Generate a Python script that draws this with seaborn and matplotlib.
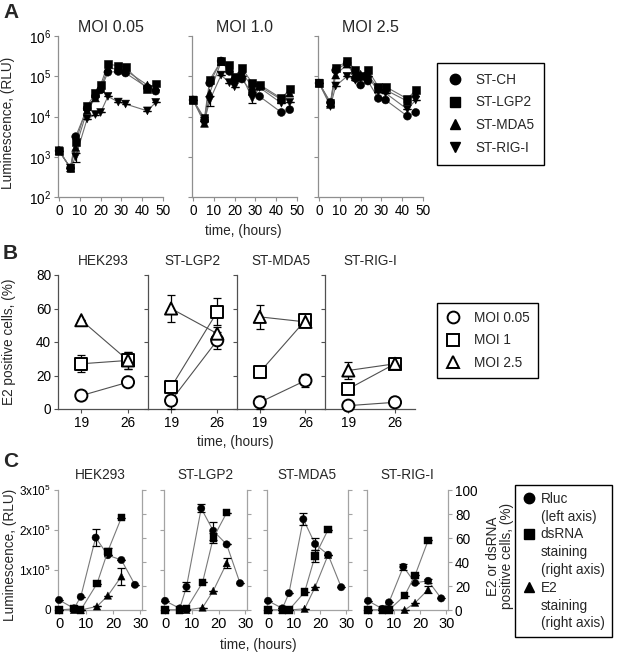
import numpy as np
import pandas as pd
import matplotlib
matplotlib.use("Agg")
import matplotlib.pyplot as plt
from matplotlib.lines import Line2D
import seaborn as sns

# ---------------- panel A: luciferase over time, log scale ----------------
A_MOI = ["MOI 0.05", "MOI 1.0", "MOI 2.5"]
A_SERIES = ["ST-CH", "ST-LGP2", "ST-MDA5", "ST-RIG-I"]
A_MARKERS = {"ST-CH": "o", "ST-LGP2": "s", "ST-MDA5": "^", "ST-RIG-I": "v"}
a_time = [0, 5.5, 8, 13.5, 17.5, 20, 23.5, 28.5, 32, 42.5, 46.5]

a_moi005 = {
    "ST-CH":    [1410, 525, 3160, 15800, 31600, 45700, 126000, 132000, 120000, 52500, 42700],
    "ST-LGP2":  [1410, 525, 2340, 18200, 38000, 60300, 200000, 182000, 166000, 47900, 66100],
    "ST-MDA5":  [1410, 525, 1700, 14100, 28800, 50100, 158000, 151000, 141000, 60300, 55000],
    "ST-RIG-I": [1410, 525, 1000, 8710, 11200, 12600, 31600, 22900, 20400, 13800, 22400],
}
a_moi1 = {
    "ST-CH":    [25700, 7940, 67600, 240000, 132000, 81300, 85100, 38000, 31600, 12600, 14800],
    "ST-LGP2":  [25700, 9120, 81300, 240000, 191000, 97700, 158000, 67600, 61700, 28200, 47900],
    "ST-MDA5":  [25700, 6760, 38000, 229000, 158000, 89100, 120000, 56200, 56200, 26300, 38000],
    "ST-RIG-I": [25700, 7590, 25100, 107000, 69200, 55000, 100000, 28200, 52500, 21400, 22400],
}
a_moi25 = {
    "ST-CH":    [67600, 22400, 141000, 214000, 89100, 60300, 75900, 28200, 25700, 10200, 12600],
    "ST-LGP2":  [67600, 21400, 158000, 234000, 145000, 100000, 145000, 55000, 55000, 27500, 45700],
    "ST-MDA5":  [67600, 20000, 107000, 200000, 112000, 112000, 112000, 47900, 45700, 24000, 38000],
    "ST-RIG-I": [67600, 17800, 57500, 100000, 79400, 89100, 100000, 41700, 38000, 15100, 25700],
}
# error bars visible on the ST-RIG-I curves only
a_rig_err = [
    [0, 0, 250, 0, 0, 0, 0, 0, 0, 0, 0],
    [0, 0, 7000, 0, 0, 0, 0, 6000, 0, 0, 0],
    [0, 0, 0, 0, 0, 0, 0, 0, 0, 0, 0],
]
a_yticks = [1e2, 1e3, 1e4, 1e5, 1e6]
a_yticklabels = ["10$^2$", "10$^3$", "10$^4$", "10$^5$", "10$^6$"]
a_xticks = [0, 10, 20, 30, 40, 50]

# ---------------- panel B: E2 positive cells ----------------
B_GROUPS = ["HEK293", "ST-LGP2", "ST-MDA5", "ST-RIG-I"]
B_MOI = ["MOI 0.05", "MOI 1", "MOI 2.5"]
B_MARKERS = {"MOI 0.05": "o", "MOI 1": "s", "MOI 2.5": "^"}
b_time = [19, 26]
b_moi005 = [[8, 16], [5, 41], [4, 17], [2, 4]]
b_moi005_err = [[0, 0], [5, 5], [4, 4], [0, 0]]
b_moi1 = [[27, 29], [13, 58], [22, 53], [12, 27]]
b_moi1_err = [[5, 5], [3, 8], [0, 3], [3, 1]]
b_moi25 = [[53, 29], [60, 45], [55, 52], [23, 27]]
b_moi25_err = [[0, 5], [8, 4], [7, 3], [5, 1]]
b_yticks = [0, 20, 40, 60, 80]

# ---------------- panel C: luciferase vs staining ----------------
C_GROUPS = ["HEK293", "ST-LGP2", "ST-MDA5", "ST-RIG-I"]
c_time_rluc = [0, 5.5, 8, 13.5, 18, 23, 28]
c_time_stain = [0, 5.5, 8, 14, 18, 23]
c_rluc = [
    [25000, 4000, 33000, 181000, 137000, 125000, 63000],
    [23000, 4000, 58000, 254000, 198000, 164000, 67000],
    [23000, 4000, 42000, 227000, 165000, 138000, 57000],
    [23000, 3000, 19000, 108000, 68000, 73000, 29000],
]
c_rluc_err = [
    [0, 0, 0, 22000, 0, 0, 0],
    [0, 0, 11000, 10000, 22000, 0, 0],
    [0, 0, 0, 15000, 15000, 0, 0],
    [0, 0, 0, 8000, 0, 5000, 0],
]
c_dsrna = [
    [0, 1, 0, 22, 49, 77],
    [0, 0, 1, 23, 60, 81],
    [0, 0, 0, 15, 45, 67],
    [0, 0, 0, 12, 29, 58],
]
c_dsrna_err = [
    [0, 0, 0, 0, 3, 0],
    [0, 0, 0, 0, 4, 0],
    [0, 0, 0, 0, 5, 0],
    [0, 0, 0, 0, 0, 0],
]
c_e2 = [
    [0, 0, 0, 3, 12, 28],
    [0, 0, 0, 2, 16, 39],
    [0, 0, 0, 1, 19, 46],
    [0, 0, 0, 0, 6, 17],
]
c_e2_err = [
    [0, 0, 0, 0, 0, 7],
    [0, 0, 0, 0, 0, 4],
    [0, 0, 0, 0, 0, 0],
    [0, 0, 0, 0, 0, 3],
]
c_left_ticks = [0, 1e5, 2e5, 3e5]
c_left_labels = ["0", "1x10$^5$", "2x10$^5$", "3x10$^5$"]
c_right_ticks = [0, 20, 40, 60, 80, 100]
c_xticks = [0, 10, 20, 30]

W, H = 617, 655
FS = 9.8

sns.set_theme(style="ticks")
plt.rcParams["font.family"] = ["Liberation Sans", "DejaVu Sans"]
plt.rcParams["mathtext.default"] = "regular"


def px_box(l, t, r, b):
    return [l / W, 1 - b / H, (r - l) / W, (b - t) / H]


def style_axis(ax, spine_color, labelsize=FS):
    for side in ["top", "right"]:
        ax.spines[side].set_visible(False)
    for side in ["left", "bottom"]:
        ax.spines[side].set_color(spine_color)
        ax.spines[side].set_linewidth(0.9)
    ax.tick_params(length=3, width=0.8, color=spine_color, labelsize=labelsize,
                   pad=2, labelcolor="black")
    ax.set_xlabel("")
    ax.set_ylabel("")


def line_and_points(ax, df, unit, markers, order, line_color, s, face, edge_lw):
    sns.lineplot(data=df, x="t", y="v", units=unit, estimator=None, color=line_color,
                 lw=0.8, ax=ax, legend=False, zorder=1)
    sns.scatterplot(data=df, x="t", y="v", style=unit, markers=markers, style_order=order,
                    color=face, edgecolor="black", linewidth=edge_lw, s=s, ax=ax,
                    legend=False, zorder=4, clip_on=False)


def errbars(ax, t, v, err):
    ax.errorbar(t, v, yerr=err, fmt="none", ecolor="black", elinewidth=0.9,
                capsize=3, capthick=0.9, zorder=3, clip_on=False)


fig = plt.figure(figsize=(W / 100, H / 100), dpi=100)

# ---------------- A ----------------
a_sets = [a_moi005, a_moi1, a_moi25]
a_boxes = [(58, 36, 163, 197), (192, 36, 297, 197), (318, 36, 423, 197)]
A_SPINE = "#8f8f8f"
for i, (title, data) in enumerate(zip(A_MOI, a_sets)):
    ax = fig.add_axes(px_box(*a_boxes[i]))
    rows = []
    for name in A_SERIES:
        for t, v in zip(a_time, data[name]):
            rows.append({"t": t, "v": v, "series": name})
    df = pd.DataFrame(rows)
    ax.set_yscale("log")
    line_and_points(ax, df, "series", A_MARKERS, A_SERIES, "#6e6e6e", 32, "black", 0.4)
    errbars(ax, a_time, data["ST-RIG-I"], a_rig_err[i])
    ax.set_ylim(1e2, 1e6)
    ax.set_xlim(-0.5, 50)
    ax.set_xticks(a_xticks)
    ax.set_yticks(a_yticks)
    ax.minorticks_off()
    if i == 0:
        ax.set_yticklabels(a_yticklabels)
    else:
        ax.set_yticklabels([])
    style_axis(ax, A_SPINE)
    ax.set_title(title, fontsize=11.5, pad=3)
    if i == 0:
        ax.set_ylabel("Luminescence, (RLU)", fontsize=FS)
        ax.yaxis.set_label_coords(-0.41, 0.46)

a_handles = [Line2D([], [], marker=A_MARKERS[n], color="black", linestyle="none",
                    markersize=7.5) for n in A_SERIES]
leg = fig.legend(a_handles, A_SERIES, loc="upper left",
                 bbox_to_anchor=(437 / W, 1 - 63 / H), fontsize=FS, frameon=True,
                 fancybox=False, edgecolor="black", framealpha=1, borderpad=0.7,
                 labelspacing=0.65, handletextpad=0.9, handlelength=1.2,
                 borderaxespad=0)
leg.get_frame().set_linewidth(1.0)
fig.text(243 / W, 1 - 231 / H, "time, (hours)", ha="center", va="center", fontsize=FS)

# ---------------- B ----------------
b_sets = [b_moi005, b_moi1, b_moi25]
b_errs = [b_moi005_err, b_moi1_err, b_moi25_err]
b_edges = [58, 148, 237, 325, 415]
B_SPINE = "#505050"
for g, group in enumerate(B_GROUPS):
    ax = fig.add_axes(px_box(b_edges[g], 275, b_edges[g + 1], 409))
    rows = []
    for m, moi in enumerate(B_MOI):
        for t, v in zip(b_time, b_sets[m][g]):
            rows.append({"t": t, "v": v, "moi": moi})
    df = pd.DataFrame(rows)
    for m in range(3):
        errbars(ax, b_time, b_sets[m][g], b_errs[m][g])
    line_and_points(ax, df, "moi", B_MARKERS, B_MOI, "#505050", 76, "white", 1.4)
    ax.set_xlim(15.5, 29)
    ax.set_ylim(0, 80)
    ax.set_xticks(b_time)
    ax.set_yticks(b_yticks)
    if g > 0:
        ax.set_yticklabels([])
    style_axis(ax, B_SPINE)
    ax.set_title(group, fontsize=FS, pad=7)
    if g == 0:
        ax.set_ylabel("E2 positive cells, (%)", fontsize=FS)
        ax.yaxis.set_label_coords(-0.47, 0.5)

b_handles = [Line2D([], [], marker=B_MARKERS[n], markerfacecolor="white",
                    markeredgecolor="black", markeredgewidth=1.4, linestyle="none",
                    markersize=8.5) for n in B_MOI]
leg = fig.legend(b_handles, B_MOI, loc="upper left",
                 bbox_to_anchor=(437 / W, 1 - 303 / H), fontsize=FS, frameon=True,
                 fancybox=False, edgecolor="black", framealpha=1, borderpad=0.6,
                 labelspacing=0.6, handletextpad=0.9, handlelength=1.2,
                 borderaxespad=0)
leg.get_frame().set_linewidth(1.0)
fig.text(235 / W, 1 - 442 / H, "time, (hours)", ha="center", va="center", fontsize=FS)

# ---------------- C ----------------
c_boxes = [(58, 490, 142, 610), (164, 490, 247, 610), (267, 490, 348, 610),
           (367, 490, 448, 610)]
C_SPINE = "#a3a3a3"
C_MARKERS = {"dsRNA": "s", "E2": "^"}
for g, group in enumerate(C_GROUPS):
    ax = fig.add_axes(px_box(*c_boxes[g]))
    ax2 = ax.twinx()
    df_l = pd.DataFrame({"t": c_time_rluc, "v": c_rluc[g], "kind": "Rluc"})
    errbars(ax, c_time_rluc, c_rluc[g], c_rluc_err[g])
    line_and_points(ax, df_l, "kind", {"Rluc": "o"}, ["Rluc"], "#7a7a7a", 28, "black", 0.3)
    df_r = pd.concat([
        pd.DataFrame({"t": c_time_stain, "v": c_dsrna[g], "kind": "dsRNA"}),
        pd.DataFrame({"t": c_time_stain, "v": c_e2[g], "kind": "E2"}),
    ], ignore_index=True)
    errbars(ax2, c_time_stain, c_dsrna[g], c_dsrna_err[g])
    errbars(ax2, c_time_stain, c_e2[g], c_e2_err[g])
    line_and_points(ax2, df_r, "kind", C_MARKERS, ["dsRNA", "E2"], "#7a7a7a", 28,
                    "black", 0.3)
    ax.set_ylim(0, 3e5)
    ax2.set_ylim(0, 100)
    ax.set_xlim(-0.4, 30.6)
    ax.set_xticks(c_xticks)
    ax.set_yticks(c_left_ticks)
    ax2.set_yticks(c_right_ticks)
    style_axis(ax, C_SPINE, labelsize=FS)
    ax.tick_params(axis="x", labelsize=10.5)
    ax2.set_ylabel("")
    ax2.spines["top"].set_visible(False)
    ax2.spines["left"].set_visible(False)
    ax2.spines["bottom"].set_visible(False)
    ax2.spines["right"].set_color(C_SPINE)
    ax2.spines["right"].set_linewidth(0.9)
    ax2.tick_params(length=3, width=0.8, color=C_SPINE, labelsize=FS, pad=2,
                    labelcolor="black")
    if g == 0:
        ax.set_yticklabels(c_left_labels)
        ax.tick_params(axis="y", labelsize=8.5)
        ax.set_ylabel("Luminescence, (RLU)", fontsize=FS)
        ax.yaxis.set_label_coords(-0.49, 0.46)
    else:
        ax.set_yticklabels([])
    if g == 3:
        ax2.set_ylabel("E2 or dsRNA\npositive cells, (%)", fontsize=FS, linespacing=1.0)
        ax2.yaxis.set_label_coords(1.47, 0.45)
    else:
        ax2.set_yticklabels([])
    ax.set_title(group, fontsize=FS, pad=8)

blank = Line2D([], [], linestyle="none", marker=None)
c_handles = [
    Line2D([], [], marker="o", color="black", linestyle="none", markersize=7.5), blank,
    Line2D([], [], marker="s", color="black", linestyle="none", markersize=7.5), blank, blank,
    Line2D([], [], marker="^", color="black", linestyle="none", markersize=7.5), blank, blank,
]
c_labels = ["Rluc", "(left axis)", "dsRNA", "staining", "(right axis)", "E2",
            "staining", "(right axis)"]
leg = fig.legend(c_handles, c_labels, loc="upper left",
                 bbox_to_anchor=(515 / W, 1 - 485 / H), fontsize=FS, frameon=True,
                 fancybox=False, edgecolor="black", framealpha=1, borderpad=0.5,
                 labelspacing=0.28, handletextpad=0.4, handlelength=1.0,
                 borderaxespad=0)
leg.get_frame().set_linewidth(1.0)
fig.text(258 / W, 1 - 645 / H, "time, (hours)", ha="center", va="center", fontsize=FS)

# panel letters
for letter, y in [("A", 3), ("B", 244), ("C", 452)]:
    fig.text(3 / W, 1 - y / H, letter, ha="left", va="top", fontsize=15,
             fontweight="bold")

fig.savefig("out.png", dpi=100)
